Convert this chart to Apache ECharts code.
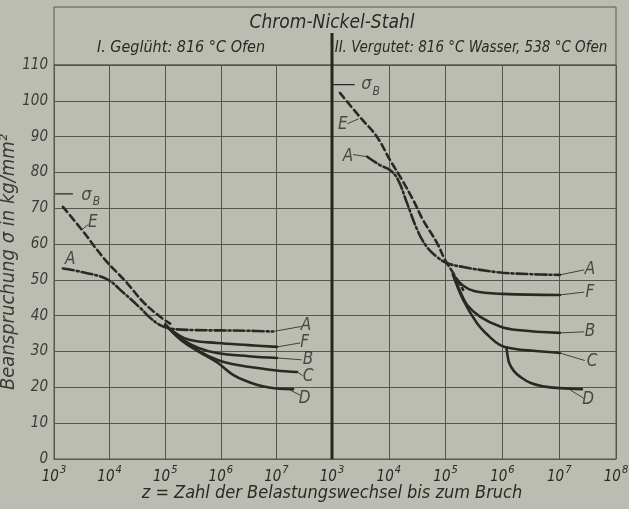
<!DOCTYPE html>
<html>
<head>
<meta charset="utf-8">
<script src="https://cdn.jsdelivr.net/npm/echarts@6/dist/echarts.min.js"></script>
<style>
html,body{margin:0;padding:0;background:#bcbdb2;}
#chart{width:629px;height:509px;}
</style>
</head>
<body>
<div id="chart"></div>
<script>
// x-Werte als Exponent (z = 10^x Lastwechsel), y in kg/mm²
var xDecades = [3, 4, 5, 6, 7, 8];
var yTicks = [0, 10, 20, 30, 40, 50, 60, 70, 80, 90, 100, 110];

// I. Geglüht: 816 °C Ofen
var sigmaB_I = 74;
var I_E_x = [3.16, 3.5, 3.92, 4.31, 4.6, 4.91, 5.09];
var I_E_y = [70.4, 64, 55.6, 49.2, 43.9, 39.7, 37.8];
var I_A_x = [3.16, 3.5, 3.95, 4.25, 4.55, 4.73, 4.91, 5.1, 5.5, 6.0, 6.5, 6.94];
var I_A_y = [53.2, 52.2, 50.2, 46.4, 42.2, 39.4, 37.4, 36.4, 36.0, 35.9, 35.8, 35.6];
var I_F_x = [5.0, 5.2, 5.45, 5.93, 6.5, 7.01];
var I_F_y = [37.5, 35.0, 33.2, 32.4, 31.8, 31.3];
var I_B_x = [5.0, 5.3, 5.6, 5.93, 6.5, 7.01];
var I_B_y = [37.5, 33.5, 31.0, 29.6, 28.7, 28.2];
var I_C_x = [5.0, 5.3, 5.6, 5.93, 6.2, 6.53, 7.0, 7.37];
var I_C_y = [37.5, 33.2, 30.2, 27.7, 26.5, 25.7, 24.7, 24.3];
var I_D_x = [5.0, 5.3, 5.6, 5.93, 6.22, 6.5, 6.75, 7.0, 7.3];
var I_D_y = [37.5, 33.0, 30.0, 27.0, 23.5, 21.5, 20.3, 19.7, 19.5];

// II. Vergütet: 816 °C Wasser, 538 °C Ofen
var sigmaB_II = 104.5;
var II_E_x = [3.14, 3.49, 3.79, 4.02, 4.23, 4.43, 4.6, 4.85, 4.99, 5.13, 5.31];
var II_E_y = [102.2, 95.5, 90, 83.5, 78, 72.3, 66.8, 60.3, 55.6, 52, 47.2];
var II_A_x = [3.62, 3.85, 4.02, 4.16, 4.32, 4.5, 4.67, 4.85, 5.02, 5.31, 5.61, 6.01, 6.5, 7.01];
var II_A_y = [84.4, 82, 80.7, 78, 71.5, 64, 59.2, 56.4, 54.7, 53.6, 52.8, 52, 51.6, 51.4];
var II_F_x = [5.13, 5.3, 5.5, 6.0, 7.01];
var II_F_y = [51.5, 48.5, 46.9, 46.1, 45.8];
var II_B_x = [5.13, 5.25, 5.38, 5.61, 5.96, 6.26, 7.01];
var II_B_y = [51.5, 47, 43, 39.7, 37, 36, 35.2];
var II_C_x = [5.13, 5.31, 5.55, 5.75, 5.96, 6.2, 6.54, 7.01];
var II_C_y = [51.5, 44.4, 38, 34.5, 31.8, 30.8, 30.2, 29.6];
var II_D_x = [6.07, 6.09, 6.12, 6.2, 6.31, 6.5, 6.75, 7.01, 7.4];
var II_D_y = [31.2, 29, 26.8, 24.6, 23, 21.2, 20.2, 19.8, 19.5];

var FONT = '"Liberation Sans Narrow", "DejaVu Sans Condensed", sans-serif';
var INK = '#2a2a25';
var GRIDC = '#56564e';

function p(e, v) { return [Math.pow(10, e), v]; }
function pts(xs, ys) { return xs.map(function (x, i) { return p(x, ys[i]); }); }

function curve(gi, xs, ys, dash) {
  return {
    type: 'line', xAxisIndex: gi, yAxisIndex: gi, data: pts(xs, ys),
    symbol: 'none', smooth: 0.4, silent: true, z: 3,
    lineStyle: { color: INK, width: 2.6, type: dash, cap: 'round' }
  };
}

var DASHED = [7, 4];
var DASHDOT = [11, 3, 2, 3];

// Beschriftungen (Mittelpunkt in Datenkoordinaten) und Hinweisstriche
var labelsI = [['sb', 3.66, 73.7], ['E', 3.70, 65.9], ['A', 3.29, 55.6], ['A', 7.53, 37.2],
  ['F', 7.51, 32.4], ['B', 7.57, 27.7], ['C', 7.57, 22.9], ['D', 7.51, 17.0]];
var labelsII = [['sb', 3.68, 104.5], ['E', 3.19, 93.3], ['A', 3.28, 84.4], ['A', 7.54, 52.8],
  ['F', 7.54, 46.6], ['B', 7.54, 35.5], ['C', 7.58, 27.1], ['D', 7.51, 16.5]];
var leadersI = [[3.50, 64, 3.62, 65.5], [6.94, 35.6, 7.45, 37.0], [7.01, 31.3, 7.43, 32.4],
  [7.01, 28.2, 7.45, 27.7], [7.37, 24.3, 7.47, 23.3], [7.25, 19.2, 7.43, 17.8]];
var leadersII = [[3.47, 95, 3.27, 93.6], [3.62, 84.4, 3.37, 85.0], [7.01, 51.4, 7.44, 52.8],
  [7.01, 45.8, 7.44, 46.6], [7.01, 35.2, 7.44, 35.5], [7.01, 29.6, 7.45, 27.5], [7.2, 19.2, 7.43, 17.0]];

function labelSeries(gi, list) {
  return {
    type: 'scatter', xAxisIndex: gi, yAxisIndex: gi, silent: true, z: 5,
    symbolSize: 1, itemStyle: { color: 'rgba(0,0,0,0)' },
    data: list.map(function (l) { return { name: l[0], value: p(l[1], l[2]) }; }),
    label: {
      show: true, position: 'inside', color: INK,
      fontFamily: FONT, fontStyle: 'italic', fontSize: 17,
      formatter: function (q) { return q.name === 'sb' ? '{g|σ}{sub|B}' : q.name; },
      rich: {
        g: { fontFamily: FONT, fontStyle: 'italic', fontSize: 18, color: INK, verticalAlign: 'bottom' },
        sub: { fontFamily: FONT, fontStyle: 'italic', fontSize: 12, color: INK, verticalAlign: 'bottom', padding: [0, 0, -4, 1] }
      }
    }
  };
}

function leaderSeries(gi, list) {
  return {
    type: 'lines', coordinateSystem: 'cartesian2d', xAxisIndex: gi, yAxisIndex: gi, silent: true, z: 4,
    lineStyle: { color: INK, width: 1, opacity: 0.85 },
    data: list.map(function (l) { return { coords: [p(l[0], l[1]), p(l[2], l[3])] }; })
  };
}

function sigmaSeries(gi, v, e1, e2) {
  return {
    type: 'line', xAxisIndex: gi, yAxisIndex: gi, silent: true, symbol: 'none',
    data: [p(e1, v), p(e2, v)], lineStyle: { color: INK, width: 1.3 }
  };
}

function xAxis(gi) {
  return {
    type: 'log', logBase: 10, gridIndex: gi, min: Math.pow(10, xDecades[0]),
    max: Math.pow(10, xDecades[xDecades.length - 1]),
    axisLine: { show: true, lineStyle: { color: GRIDC, width: 1 } },
    axisTick: { show: false },
    splitLine: { show: true, lineStyle: { color: GRIDC, width: 1 } },
    axisLabel: {
      margin: 6, showMinLabel: true, showMaxLabel: true,
      formatter: function (v) {
        var e = Math.round(Math.log10(v));
        if (gi === 0 && e === 8) return '';
        return '{b|10}{s|' + e + '}';
      },
      rich: {
        b: { fontFamily: FONT, fontStyle: 'italic', fontSize: 15, color: INK, verticalAlign: 'bottom' },
        s: { fontFamily: FONT, fontStyle: 'italic', fontSize: 11, color: INK, verticalAlign: 'bottom', padding: [0, 0, 9, 1] }
      }
    }
  };
}

function yAxis(gi) {
  var a = {
    type: 'value', gridIndex: gi, min: yTicks[0], max: yTicks[yTicks.length - 1], interval: 10,
    axisLine: { show: true, lineStyle: { color: GRIDC, width: 1 } },
    axisTick: { show: false },
    splitLine: { show: true, lineStyle: { color: GRIDC, width: 1 } },
    axisLabel: { show: gi === 0, margin: 6, color: '#3c3c36', fontFamily: FONT, fontStyle: 'italic', fontSize: 15 }
  };
  if (gi === 0) {
    a.name = 'Beanspruchung σ in kg/mm²';
    a.nameLocation = 'middle';
    a.nameRotate = 90;
    a.nameGap = 30;
    a.nameTextStyle = { color: '#3c3c36', fontFamily: FONT, fontStyle: 'italic', fontSize: 20 };
  }
  return a;
}

function txt(x, y, text, size) {
  return {
    type: 'text', x: x, y: y, z: 10, silent: true,
    style: { text: text, fill: INK, font: 'italic ' + size + 'px ' + FONT, align: 'center', verticalAlign: 'middle' }
  };
}

var chart = echarts.init(document.getElementById('chart'));
chart.setOption({
  backgroundColor: '#bcbdb2',
  animation: false,
  grid: [
    { left: 54, right: 297, top: 65, bottom: 50, show: true, borderColor: GRIDC, borderWidth: 1,
      containLabel: false, outerBoundsMode: 'none' },
    { left: 332, right: 13, top: 65, bottom: 50, show: true, borderColor: GRIDC, borderWidth: 1,
      containLabel: false, outerBoundsMode: 'none' }
  ],
  xAxis: [xAxis(0), xAxis(1)],
  yAxis: [yAxis(0), yAxis(1)],
  series: [
    sigmaSeries(0, sigmaB_I, 3.02, 3.34),
    curve(0, I_E_x, I_E_y, DASHED),
    curve(0, I_A_x, I_A_y, DASHDOT),
    curve(0, I_F_x, I_F_y, 'solid'),
    curve(0, I_B_x, I_B_y, 'solid'),
    curve(0, I_C_x, I_C_y, 'solid'),
    curve(0, I_D_x, I_D_y, 'solid'),
    leaderSeries(0, leadersI),
    labelSeries(0, labelsI),
    sigmaSeries(1, sigmaB_II, 3.02, 3.40),
    curve(1, II_E_x, II_E_y, DASHED),
    curve(1, II_A_x, II_A_y, DASHDOT),
    curve(1, II_F_x, II_F_y, 'solid'),
    curve(1, II_B_x, II_B_y, 'solid'),
    curve(1, II_C_x, II_C_y, 'solid'),
    curve(1, II_D_x, II_D_y, 'solid'),
    leaderSeries(1, leadersII),
    labelSeries(1, labelsII)
  ],
  graphic: [
    { type: 'rect', silent: true, shape: { x: 54, y: 7, width: 562, height: 58 },
      style: { fill: null, stroke: GRIDC, lineWidth: 1 } },
    { type: 'line', silent: true, z: 10, shape: { x1: 332, y1: 33, x2: 332, y2: 459 },
      style: { stroke: '#26261f', lineWidth: 3 } },
    txt(332, 23, 'Chrom-Nickel-Stahl', 19),
    txt(181, 48, 'I. Geglüht: 816 °C Ofen', 16),
    txt(471, 48, 'II. Vergutet: 816 °C Wasser, 538 °C Ofen', 15),
    txt(332, 493, 'z = Zahl der Belastungswechsel bis zum Bruch', 18)
  ]
});
</script>
</body>
</html>
